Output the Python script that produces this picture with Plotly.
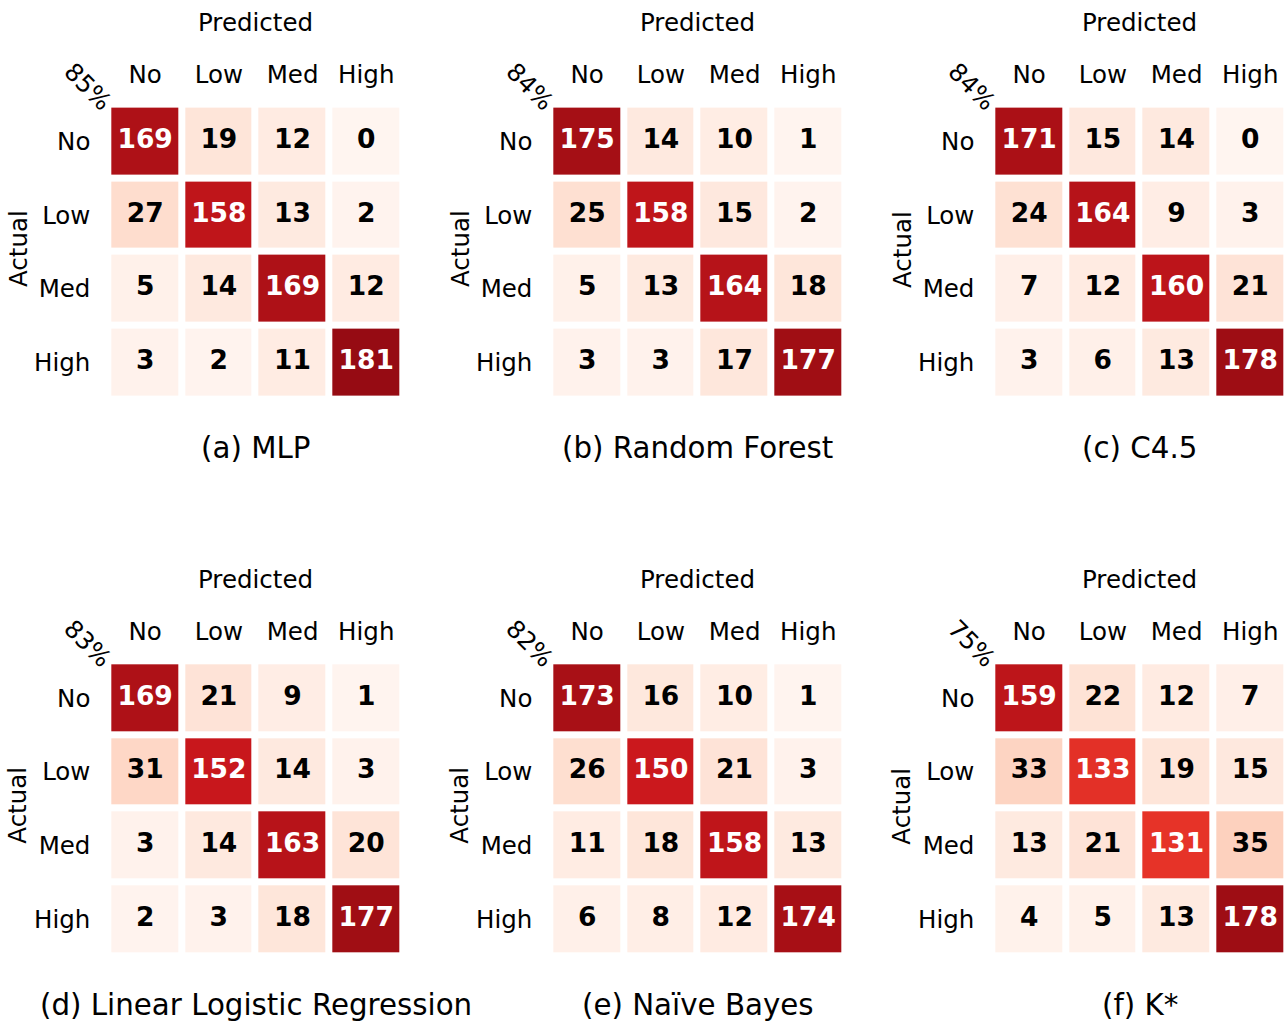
import plotly.graph_objects as go

# ---------------- data ----------------
classes = ["No", "Low", "Med", "High"]

mlp = [[169, 19, 12, 0], [27, 158, 13, 2], [5, 14, 169, 12], [3, 2, 11, 181]]
random_forest = [[175, 14, 10, 1], [25, 158, 15, 2], [5, 13, 164, 18], [3, 3, 17, 177]]
c45 = [[171, 15, 14, 0], [24, 164, 9, 3], [7, 12, 160, 21], [3, 6, 13, 178]]
logistic = [[169, 21, 9, 1], [31, 152, 14, 3], [3, 14, 163, 20], [2, 3, 18, 177]]
naive_bayes = [[173, 16, 10, 1], [26, 150, 21, 3], [11, 18, 158, 13], [6, 8, 12, 174]]
kstar = [[159, 22, 12, 7], [33, 133, 19, 15], [13, 21, 131, 35], [4, 5, 13, 178]]

captions = ["(a) MLP", "(b) Random Forest", "(c) C4.5",
            "(d) Linear Logistic Regression", "(e) Naïve Bayes", "(f) K*"]
accuracies = ["85%", "84%", "84%", "83%", "82%", "75%"]
matrices = [mlp, random_forest, c45, logistic, naive_bayes, kstar]

# ---------------- style ----------------
W, H = 1285, 1023
FONT = "DejaVu Sans"
LABEL_SIZE = 24.5
reds = ["#fff5f0", "#fee0d2", "#fcbba1", "#fc9272", "#fb6a4a",
        "#ef3b2c", "#cb181d", "#a50f15", "#67000d"]
colorscale = [[i / (len(reds) - 1), c] for i, c in enumerate(reds)]
col_left = [112, 554, 996]     # visible left edge of grid (px)
row_top = [108.3, 665]         # visible top edge of grid (px)
span = 287.4
pad = 3.7
gap = 7
pitch = (span + 2 * pad) / 4


def px_x(v):
    return v / W


def px_y(v):
    return 1 - v / H


fig = go.Figure()
annotations = []
layout_axes = {}

for i, (z, cap, acc) in enumerate(zip(matrices, captions, accuracies)):
    r, c = divmod(i, 3)
    n = "" if i == 0 else str(i + 1)
    xa, ya = f"x{n}", f"y{n}"
    left = col_left[c]
    top = row_top[r]
    cx = left + span / 2
    cy = top + span / 2

    fig.add_trace(go.Heatmap(
        z=z, x=classes, y=classes, xaxis=xa, yaxis=ya,
        colorscale=colorscale, zmin=0, zmax=200, showscale=False,
        xgap=gap, ygap=gap, hoverinfo="skip"))

    xs, ys, ts, cs = [], [], [], []
    for ri, row in enumerate(z):
        for ci, v in enumerate(row):
            xs.append(classes[ci])
            ys.append(classes[ri])
            ts.append(str(v))
            cs.append("white" if v > 100 else "black")
    fig.add_trace(go.Scatter(
        x=xs, y=ys, text=ts, mode="text", xaxis=xa, yaxis=ya,
        textposition="middle center", hoverinfo="skip", showlegend=False,
        textfont=dict(family=FONT, size=26.5, color=cs, weight="bold")))

    x_lo = left - pad
    x_hi = left + span + pad
    x_range_hi = 3.5
    if x_hi > W:
        x_range_hi = 3.5 - (x_hi - W) / pitch
        x_hi = W

    layout_axes[f"xaxis{n}"] = dict(
        domain=[px_x(x_lo), px_x(x_hi)], anchor=ya,
        side="top", type="category", range=[-0.5, x_range_hi],
        showgrid=False, zeroline=False, showline=False,
        ticks="outside", ticklen=11, tickcolor="rgba(0,0,0,0)",
        tickfont=dict(family=FONT, size=LABEL_SIZE, color="black"), fixedrange=True)
    layout_axes[f"yaxis{n}"] = dict(
        domain=[px_y(top + span + pad), px_y(top - pad)], anchor=xa,
        type="category", range=[3.5, -0.5],
        showgrid=False, zeroline=False, showline=False,
        ticks="outside", ticklen=12, tickcolor="rgba(0,0,0,0)",
        tickfont=dict(family=FONT, size=LABEL_SIZE, color="black"), fixedrange=True)

    annotations.append(dict(text="Predicted", x=px_x(cx), y=px_y(top - 86),
                            xref="paper", yref="paper", showarrow=False,
                            xanchor="center", yanchor="middle",
                            font=dict(family=FONT, size=LABEL_SIZE, color="black")))
    annotations.append(dict(text="Actual", x=px_x(left - 94), y=px_y(cy - 3),
                            xref="paper", yref="paper", showarrow=False,
                            xanchor="center", yanchor="middle", textangle=-90,
                            font=dict(family=FONT, size=LABEL_SIZE, color="black")))
    annotations.append(dict(text=acc, x=px_x(left - 24), y=px_y(top - 22),
                            xref="paper", yref="paper", showarrow=False,
                            xanchor="center", yanchor="middle", textangle=45,
                            font=dict(family=FONT, size=LABEL_SIZE, color="black")))
    annotations.append(dict(text=cap, x=px_x(cx), y=px_y(top + 340),
                            xref="paper", yref="paper", showarrow=False,
                            xanchor="center", yanchor="middle",
                            font=dict(family=FONT, size=29.3, color="black")))

fig.update_layout(
    width=W, height=H, margin=dict(l=0, r=0, t=0, b=0),
    paper_bgcolor="white", plot_bgcolor="white", showlegend=False,
    annotations=annotations, **layout_axes)

fig.write_html("out.html", config={"displayModeBar": False})
